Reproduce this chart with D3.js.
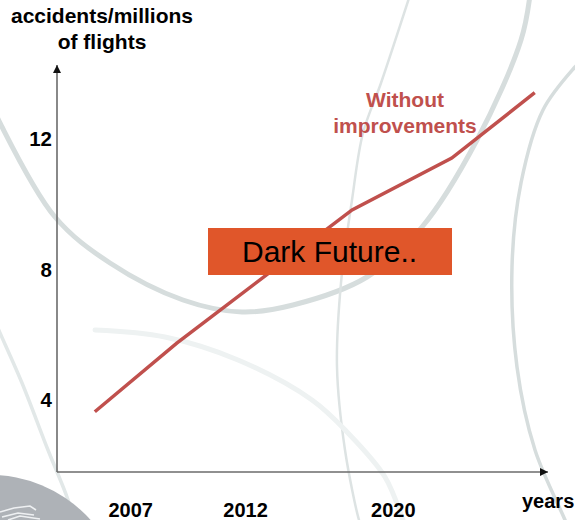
<!DOCTYPE html>
<html>
<head>
<meta charset="utf-8">
<script src="https://cdn.jsdelivr.net/npm/d3@7"></script>
<style>
  html, body { margin: 0; padding: 0; background: #ffffff; }
  svg { display: block; }
  text { font-family: "Liberation Sans", Arial, Helvetica, sans-serif; }
</style>
</head>
<body>
<svg id="chart" width="575" height="520"></svg>
<script>
// ---------------- DATA ----------------
// x is a position along the time axis (0 = axis origin, 10 = arrow tip)
const lineX = [0.77, 2.44, 6.01, 8.04, 9.73];
const lineY = [3.63, 5.74, 9.83, 11.42, 13.43];   // accidents / millions of flights
const yTicks = [4, 8, 12];
const xTickLabels = ["2007", "2012", "2020"];
const xTickPos = [1.49, 3.83, 6.84];
const yTitle = ["accidents/millions", "of flights"];
const xTitle = "years";
const seriesLabel = ["Without", "improvements"];
const boxLabel = "Dark Future..";

// ---------------- SETUP ----------------
const svg = d3.select("#chart");
const x = d3.scaleLinear().domain([0, 10]).range([57, 548]);
const y = d3.scaleLinear().domain([1.78, 14.28]).range([472, 65]);

// ---------------- BACKGROUND DECORATION ----------------
const decor = svg.append("g").attr("class", "decor");
const curve = d3.line().curve(d3.curveCatmullRom.alpha(0.5));
const decoCurves = [
  { pts: [[-5,112],[0,123],[55,217],[110,263],[183,300],[242,312],[293,305],[367,277],[422,227],[477,140],[521,40],[530,-5]], c: "#d6dddd", w: 5 },
  { pts: [[410,-5],[381,83],[363,133],[352,200],[341,283],[337,367],[345,450],[359,520],[361,525]], c: "#dde3e3", w: 2.5 },
  { pts: [[580,62],[575,67],[543,110],[521,183],[512,267],[517,367],[535,450],[565,520],[568,528]], c: "#d6dddd", w: 3.5 },
  { pts: [[95,330],[165,337],[238,360],[312,400],[348,433],[385,477],[403,520],[406,528]], c: "#eef2f2", w: 5 },
  { pts: [[-3,326],[0,333],[22,383],[48,450],[67,497],[76,525]], c: "#e2e8e8", w: 3.5 }
];
decoCurves.forEach(d => {
  decor.append("path").attr("d", curve(d.pts))
    .attr("fill", "none").attr("stroke", d.c).attr("stroke-width", d.w)
    .attr("stroke-linecap", "round");
});
decor.append("circle").attr("cx", -10).attr("cy", 610).attr("r", 135).attr("fill", "#aeb2b7");
const scribble = d3.line();
[
  [[0,512],[14,508],[30,506],[36,510]],
  [[2,517],[18,513],[34,515]],
  [[8,520],[20,516],[40,519]]
].forEach(p => decor.append("path").attr("d", scribble(p)).attr("fill", "none")
  .attr("stroke", "#eef0f2").attr("stroke-width", 1.6));

// ---------------- AXES ----------------
const defs = svg.append("defs");
defs.append("marker").attr("id", "arrow").attr("viewBox", "0 0 10 10")
  .attr("refX", 10).attr("refY", 5).attr("markerWidth", 8).attr("markerHeight", 8)
  .attr("markerUnits", "userSpaceOnUse").attr("orient", "auto")
  .append("path").attr("d", "M0,0L10,5L0,10Z").attr("fill", "#111");

const yAxis = svg.append("g").attr("transform", `translate(${x(0)},0)`)
  .call(d3.axisLeft(y).tickValues(yTicks).tickSize(0).tickSizeOuter(0).tickPadding(5).tickFormat(d3.format("d")));
yAxis.select(".domain").remove();
yAxis.selectAll("text").attr("font-size", 20.5).attr("font-weight", "bold").attr("fill", "#000")
  .style("font-family", '"Liberation Sans", Arial, sans-serif');

const xAxis = svg.append("g").attr("transform", `translate(0,${y(y.domain()[0])})`)
  .call(d3.axisBottom(x).tickValues(xTickPos).tickSize(0).tickSizeOuter(0).tickPadding(31)
    .tickFormat((d, i) => xTickLabels[i]));
xAxis.select(".domain").remove();
xAxis.selectAll("text").attr("font-size", 20).attr("font-weight", "bold").attr("fill", "#000")
  .style("font-family", '"Liberation Sans", Arial, sans-serif');

// axis lines with arrows
svg.append("line").attr("x1", x(0)).attr("y1", y(y.domain()[0])).attr("x2", x(0)).attr("y2", y(y.domain()[1]))
  .attr("stroke", "#6b6b6b").attr("stroke-width", 1.6).attr("marker-end", "url(#arrow)");
svg.append("line").attr("x1", x(0)).attr("y1", y(y.domain()[0])).attr("x2", x(10)).attr("y2", y(y.domain()[0]))
  .attr("stroke", "#6b6b6b").attr("stroke-width", 1.6).attr("marker-end", "url(#arrow)");

// axis titles
const yt = svg.append("text").attr("x", 102).attr("text-anchor", "middle")
  .attr("font-size", 21).attr("font-weight", "bold").attr("fill", "#000");
yTitle.forEach((t, i) => yt.append("tspan").attr("x", 102).attr("y", 23 + i * 25.5).text(t));

svg.append("text").attr("x", 522).attr("y", 508).attr("font-size", 20).attr("font-weight", "bold")
  .attr("fill", "#000").text(xTitle);

// ---------------- SERIES ----------------
const pts = lineX.map((v, i) => [v, lineY[i]]);
svg.append("path").datum(pts)
  .attr("d", d3.line().x(d => x(d[0])).y(d => y(d[1])))
  .attr("fill", "none").attr("stroke", "#c0504d").attr("stroke-width", 3.5)
  .attr("stroke-linejoin", "miter");

const sl = svg.append("text").attr("text-anchor", "middle").attr("font-size", 21)
  .attr("font-weight", "bold").attr("fill", "#c0504d");
seriesLabel.forEach((t, i) => sl.append("tspan").attr("x", 405).attr("y", 107 + i * 26).text(t));

// ---------------- ANNOTATION BOX ----------------
svg.append("rect").attr("x", 208).attr("y", 228).attr("width", 244).attr("height", 47)
  .attr("fill", "#e0562a");
svg.append("text").attr("x", 242).attr("y", 262).attr("font-size", 30).attr("fill", "#000")
  .text(boxLabel);
</script>
</body>
</html>
